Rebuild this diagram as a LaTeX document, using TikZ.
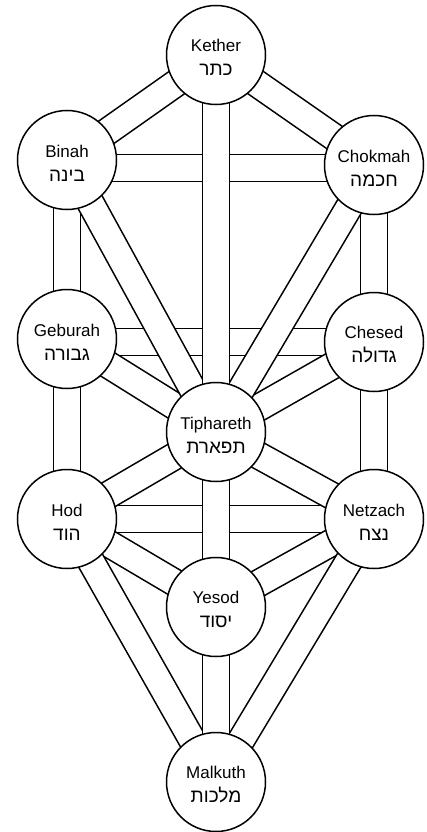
\documentclass[tikz,border=0pt]{standalone}
\usepackage{fontspec}
\setmainfont{Liberation Sans}
\newfontfamily\hebfont[Script=Hebrew]{Liberation Sans}
\TeXXeTstate=1
\pgfdeclarelayer{bg}
\pgfsetlayers{bg,main}
\newcommand{\heb}[1]{{\hebfont\fontsize{19}{24}\selectfont\beginR #1\endR}}
\newcommand{\topstrut}{\rule{0pt}{18pt}}
\tikzset{
  sef/.style={circle, draw=black, line width=1.5pt, fill=white, minimum size=99pt,
    inner sep=0pt, align=center, font=\fontsize{17}{24}\selectfont},
  chanb/.style={line width=28.6pt, black},
  chanw/.style={line width=25.4pt, white},
}
\begin{document}
\begin{tikzpicture}[x=1pt, y=-1pt]
\useasboundingbox (0,0) rectangle (427,832);
\node[sef] (kether)  at (216,55)  {\topstrut Kether\\\heb{כתר}};
\node[sef] (binah)   at (67,160)  {\topstrut Binah\\\heb{בינה}};
\node[sef] (chokmah) at (374,165) {\topstrut Chokmah\\\heb{חכמה}};
\node[sef] (geburah) at (67,339)  {\topstrut Geburah\\\heb{גבורה}};
\node[sef] (chesed)  at (374,342) {\topstrut Chesed\\\heb{גדולה}};
\node[sef] (tiph)    at (216,432) {\topstrut Tiphareth\\\heb{תפארת}};
\node[sef] (hod)     at (67,519)  {\topstrut Hod\\\heb{הוד}};
\node[sef] (netzach) at (374,519) {\topstrut Netzach\\\heb{נצח}};
\node[sef] (yesod)   at (216,607) {\topstrut Yesod\\\heb{יסוד}};
\node[sef] (malkuth) at (216,782) {\topstrut Malkuth\\\heb{מלכות}};
\coordinate (lvlA) at (0,168);
\coordinate (lvlB) at (0,342);
\begin{pgfonlayer}{bg}
\fill[white] (0,0) rectangle (427,832);
\foreach \a/\b/\l in {binah/chokmah/lvlA, geburah/chesed/lvlB}{
  \draw[chanb] (\a.center |- \l) -- (\b.center |- \l);
  \draw[chanw] (\a.center |- \l) -- (\b.center |- \l);
}
\foreach \a/\b in {hod/netzach,
  kether/binah, kether/chokmah, binah/geburah, chokmah/chesed,
  geburah/hod, chesed/netzach, geburah/tiph, chesed/tiph,
  hod/tiph, netzach/tiph, hod/yesod, netzach/yesod,
  hod/malkuth, netzach/malkuth, yesod/malkuth,
  binah/tiph, chokmah/tiph, kether/tiph, tiph/yesod}{
  \draw[chanb] (\a.center) -- (\b.center);
  \draw[chanw] (\a.center) -- (\b.center);
}
\end{pgfonlayer}
\end{tikzpicture}
\end{document}
